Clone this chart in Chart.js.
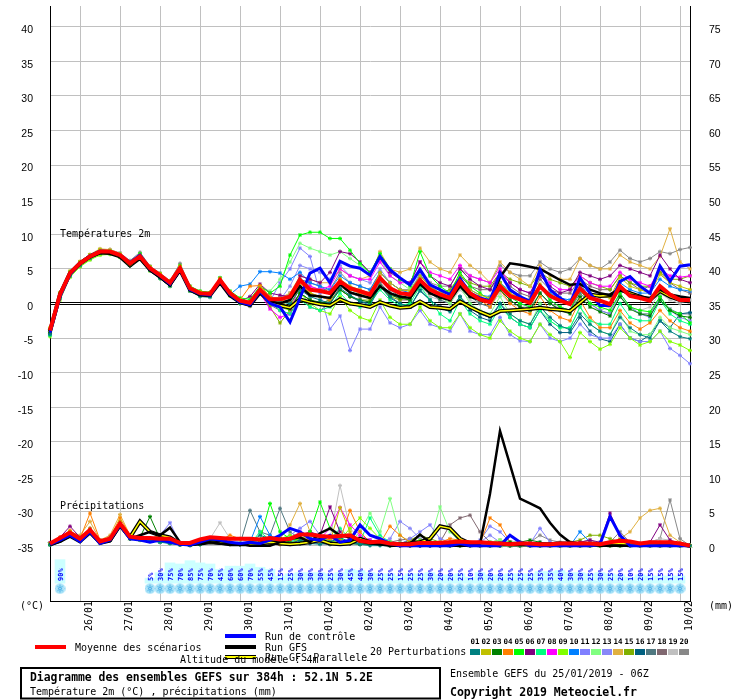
<!DOCTYPE html>
<html><head><meta charset="utf-8">
<script src="https://cdn.jsdelivr.net/npm/chart.js@4"></script>
<style>html,body{margin:0;padding:0;background:#fff;}#wrap{width:740px;height:700px;}</style>
</head><body><div id="wrap"><canvas id="c" width="740" height="700"></canvas></div>
<script>
// ---------- DATA ----------
const stepHours = Array.from({length:65}, (_, i) => i * 6); // forecast steps 0..384h
const dayLabels = ['26/01','27/01','28/01','29/01','30/01','31/01','01/02','02/02','03/02','04/02','05/02','06/02','07/02','08/02','09/02','10/02'];
const dayIndex  = [3,7,11,15,19,23,27,31,35,39,43,47,51,55,59,63];
const tempTicks = [40,35,30,25,20,15,10,5,0,-5,-10,-15,-20,-25,-30,-35];
const precTicks = [75,70,65,60,55,50,45,40,35,30,25,20,15,10,5,0];
const memberNames = ['01','02','03','04','05','06','07','08','09','10','11','12','13','14','15','16','17','18','19','20'];

const tMean = [-3.9,1.3,4.4,5.8,6.8,7.5,7.5,7.0,5.8,6.8, 5.1,4.1,3.0,5.1,2.2,1.5,1.4,3.4,1.5,0.4, 0.1,2.0,0.6,0.6,1.0,3.4,2.0,1.8,1.5,3.2, 2.2,1.8,1.3,3.7,2.2,1.5,1.3,3.4,2.0,1.3, 0.8,3.2,1.5,0.6,0.2,2.5,1.1,0.6,0.1,2.5, 1.1,0.4,-0.1,2.2,0.8,0.4,-0.1,2.5,1.1,0.8, 0.4,2.5,1.3,0.5,0.5];
const tCtl  = [-4.2,1.0,4.2,5.8,6.9,7.6,7.5,7.0,5.9,7.0, 5.0,4.0,2.8,5.0,2.0,1.4,1.2,3.3,1.3,0.2, -0.2,1.8,0.0,-0.5,-2.7,0.8,4.4,5.1,3.0,6.1, 5.4,5.1,4.1,6.8,4.9,3.7,2.7,4.9,2.7,2.0, 1.3,3.6,1.5,0.8,0.4,4.4,2.0,1.0,0.3,4.9, 2.0,0.8,-0.1,3.7,1.5,-0.3,-0.3,3.2,3.9,2.5, 1.5,5.4,3.2,5.4,5.6];
const tGfs  = [-4.0,1.2,4.3,5.7,6.7,7.3,7.3,6.8,5.6,6.5, 4.8,3.8,2.6,4.8,2.0,1.3,1.2,3.0,1.2,0.3, 0.0,1.5,0.3,0.0,0.5,2.5,1.2,1.0,0.8,2.8, 1.6,1.2,0.8,2.5,1.5,1.0,0.8,2.8,1.5,0.9, 0.5,2.5,1.0,0.5,0.2,3.8,5.8,5.6,5.3,5.0, 4.2,3.4,2.7,2.8,2.0,1.5,1.2,2.0,1.3,1.0, 0.8,2.0,1.3,1.0,0.8];
const tPar  = [-4.0,1.3,4.4,5.8,6.8,7.4,7.3,6.8,5.5,6.6, 4.9,3.9,2.8,4.9,2.0,1.3,1.2,3.1,1.2,0.2, -0.2,1.6,0.2,-0.3,-0.6,0.6,0.2,-0.1,-0.3,0.6, 0.0,-0.2,-0.5,0.2,-0.3,-0.6,-0.5,0.3,-0.5,-0.6, -0.8,0.3,-0.5,-1.2,-1.8,-1.1,-1.0,-0.9,-0.8,-0.6, -0.8,-0.9,-1.1,0.1,1.3,1.1,1.2,2.0,1.5,1.0, 0.5,1.8,1.0,0.5,0.3];

const t01 = [-4.5,0.8,4.0,5.5,6.6,7.3,7.4,6.8,5.5,6.5,4.8,3.6,2.5,4.6,1.8,1.0,0.9,3.0,1.2,0.0,-0.3,1.5,0.3,0.2, 0.0,2.0,1.0,0.5, 0.0,2.2,1.2,0.4, -0.3,2.5,1.0,0.0, -0.5,1.8,0.5,-0.6, -1.2,1.0,-0.5,-1.5, -2.0,0.0,-1.5,-2.5, -3.0,-0.5,-2.0,-3.2, -3.8,-1.5,-3.0,-4.0, -4.5,-2.0,-3.5,-4.5, -5.0,-2.5,-4.0,-4.8, -5.1];
const t02 = [-3.5,1.6,4.6,6.0,7.0,7.8,7.6,7.1,6.0,7.0,5.3,4.3,3.2,5.3,2.4,1.7,1.5,3.6,1.7,0.5,0.2,2.2,0.8,0.3, -0.5,2.5,1.5,1.0, 0.8,3.5,2.5,2.0, 1.5,4.5,3.0,2.0, 1.8,4.0,2.5,1.5, 1.0,3.5,2.0,1.2, 0.8,3.0,1.5,0.8, 0.5,2.8,1.2,0.5, 0.2,3.2,1.5,1.0, 0.8,3.8,2.5,2.0, 1.5,4.2,3.0,2.5, 2.0];
const t03 = [-4.2,1.0,4.2,5.6,6.6,7.3,7.4,6.9,5.7,6.9,5.0,4.0,2.8,5.0,2.0,1.3,1.2,3.3,1.3,0.2,0.0,1.8,0.4,0.0, -0.8,1.5,0.5,0.2, 0.0,2.0,1.0,0.5, 0.2,2.5,1.2,0.8, 0.5,3.0,1.5,0.8, 0.5,2.5,1.0,0.5, 0.2,2.0,0.5,-0.5, -1.0,1.5,0.0,-1.0, -1.5,1.0,-0.5,-1.2, -1.8,1.0,-0.8,-1.5, -1.8,0.5,-1.0,-1.8, -2.0];
const t04 = [-4.0,1.4,4.5,6.0,7.0,7.6,7.5,7.0,5.8,6.8,5.2,4.2,3.1,5.3,2.2,1.6,1.5,3.5,1.6,0.5,2.5,2.6,1.0,0.5, 0.2,3.0,1.5,1.0, 0.5,3.5,2.0,1.5, 1.0,4.0,2.5,1.5, 1.0,3.5,2.0,1.0, 0.5,3.0,1.5,0.5, -0.5,2.0,0.0,-1.0, -1.5,1.0,-1.0,-2.0, -2.5,0.5,-2.0,-3.5, -3.5,-1.0,-2.8,-3.7, -2.8,-1.0,-2.5,-3.5, -4.0];
const t05 = [-3.8,1.5,4.6,6.0,7.0,7.7,7.6,7.1,6.0,7.2,5.3,4.3,3.2,5.5,2.5,1.8,1.6,3.7,1.8,0.8,0.6,2.5,1.5,2.5, 7.0,9.9,10.3,10.3, 9.4,9.4,7.7,5.8, 4.4,7.2,5.0,3.5, 2.5,7.5,4.0,2.5, 1.5,4.5,2.5,1.5, 0.5,3.0,1.0,0.0, -0.5,2.5,0.5,-0.5, -1.0,2.0,0.0,-0.5, -1.0,1.5,-0.5,-1.0, -1.2,1.0,-1.0,-1.5, -2.8];
const t06 = [-4.3,1.1,4.3,5.7,6.7,7.4,7.5,6.9,5.7,6.8,5.1,4.0,3.0,5.0,2.2,1.5,1.4,3.3,1.4,0.3,1.0,2.8,1.5,1.2, 1.0,4.0,3.5,3.0, 4.5,7.5,7.2,6.0, 4.5,6.5,4.5,3.5, 3.0,6.0,4.0,3.0, 2.5,5.0,3.5,2.5, 2.0,4.5,3.0,2.0, 1.5,4.0,2.5,1.5, 2.0,4.5,4.0,3.5, 4.0,5.5,5.0,4.5, 4.0,7.0,5.0,3.5, 3.0];
const t07 = [-4.6,0.9,4.1,5.6,6.7,7.5,7.6,7.1,5.9,7.0,5.2,4.1,3.0,5.2,2.3,1.6,1.5,3.5,1.6,0.5,0.1,1.9,0.2,-1.0, -1.5,0.5,-0.5,-1.0, -0.5,1.5,0.0,-0.5, 0.0,2.0,0.5,-0.3, 0.0,2.5,0.5,-1.5, -2.5,0.5,-1.5,-2.5, -3.0,-0.5,-2.0,-3.0, -3.5,-1.0,-2.5,-3.5, -3.5,-0.5,-2.5,-3.0, -3.0,0.0,-2.0,-2.5, -2.5,0.5,-1.5,-2.5, -3.0];
const t08 = [-3.6,1.5,4.5,5.9,6.9,7.5,7.4,6.9,5.8,6.7,5.0,4.0,2.9,5.0,2.2,1.5,1.3,3.4,1.5,0.3,-0.2,1.5,-0.8,-2.0, -1.5,3.0,2.5,2.0, 2.5,5.0,4.0,3.5, 3.5,6.0,4.0,3.0, 3.0,6.0,4.5,4.0, 3.5,5.5,4.0,3.5, 3.0,5.0,3.0,2.0, 1.5,4.5,3.0,2.0, 2.0,4.0,3.0,2.5, 2.5,4.5,3.5,3.0, 2.5,5.0,4.0,3.8, 4.0];
const t09 = [-4.8,0.5,3.8,5.3,6.3,7.0,7.1,6.7,5.5,6.4,4.7,3.6,2.5,4.6,1.8,1.1,1.0,3.0,1.1,0.0,-0.3,1.5,0.0,-0.5, -1.0,1.5,0.0,-1.0, -1.5,1.0,-1.0,-2.0, -2.5,0.5,-2.0,-3.0, -3.0,-0.5,-2.5,-3.5, -3.5,-1.5,-3.5,-4.5, -5.0,-2.5,-4.0,-5.0, -5.5,-3.0,-4.5,-5.5, -7.8,-4.2,-5.5,-6.6, -5.9,-3.5,-5.0,-6.0, -5.5,-4.0,-5.5,-6.0, -6.8];
const t10 = [-4.4,1.0,4.1,5.5,6.5,7.2,7.2,6.8,5.6,6.6,4.9,3.9,2.8,4.9,2.0,1.4,1.3,3.2,1.3,2.5,2.8,4.6,4.6,4.4, 3.5,4.5,3.0,2.5, 2.0,4.0,3.0,2.5, 2.0,4.5,3.0,2.0, 1.5,4.0,2.5,1.5, 1.0,3.5,2.0,1.2, 1.0,3.0,1.8,1.0, 0.5,2.5,1.5,0.8, 0.5,2.5,1.5,1.0, 1.0,3.0,2.0,1.5, 1.5,3.5,2.5,2.0, 1.8];
const t11 = [-4.0,1.2,4.3,5.7,6.7,7.3,7.3,6.8,5.6,6.6,4.9,3.9,2.8,4.9,2.1,1.3,1.2,3.2,1.2,0.2,-0.1,1.7,0.3,3.0, 5.0,8.0,6.8,1.5, -3.7,-1.8,-6.8,-3.7, -3.7,-0.5,-2.8,-3.5, -3.0,-1.0,-3.0,-3.5, -4.0,-1.5,-4.0,-4.5, -4.5,-2.0,-4.5,-5.4, -5.5,-3.0,-5.0,-5.5, -5.0,-3.0,-4.5,-5.0, -5.0,-3.0,-5.0,-5.5, -5.5,-4.0,-6.5,-7.5, -8.7];
const t12 = [-4.1,1.2,4.3,5.7,6.8,7.5,7.5,7.0,5.8,6.8,5.1,4.1,3.0,5.1,2.3,1.6,1.5,3.4,1.5,0.5,0.2,2.3,1.8,3.5, 6.0,8.7,8.0,7.5, 7.0,7.5,6.5,5.5, 4.5,6.5,4.0,3.0, 2.0,5.0,2.5,1.0, 0.0,2.5,0.0,-1.0, -1.5,1.0,-1.5,-2.5, -3.0,0.0,-2.5,-3.5, -3.5,-0.5,-3.0,-4.0, -4.5,-1.5,-4.0,-4.5, -4.5,-2.0,-3.5,-4.0, -4.5];
const t13 = [-4.2,1.1,4.2,5.6,6.7,7.4,7.4,6.9,5.7,6.7,5.0,4.0,2.9,5.0,2.1,1.4,1.3,3.3,1.4,0.3,0.0,1.8,0.2,0.5, 2.5,5.5,5.0,4.5, 3.5,5.5,4.0,3.5, 3.0,5.0,3.0,2.0, 1.5,4.5,2.5,1.5, 0.5,3.5,1.5,0.5, 0.0,3.0,1.0,0.0, -0.5,2.5,0.5,-0.5, -1.0,2.0,0.0,-1.0, -1.5,1.5,-0.5,-1.5, -2.0,1.0,-1.0,-2.0, -2.5];
const t14 = [-3.7,1.6,4.7,6.1,7.1,7.9,7.8,7.2,6.0,7.1,5.3,4.3,3.2,5.4,2.4,1.7,1.6,3.6,1.6,0.5,0.3,2.2,0.8,0.8, 1.5,4.0,3.5,3.0, 3.0,5.0,4.0,3.5, 4.0,7.5,5.0,4.5, 5.0,8.0,6.0,5.0, 4.5,7.0,5.5,4.5, 3.0,6.0,4.5,3.5, 2.5,5.5,4.0,3.5, 3.5,6.5,5.5,5.0, 5.0,7.0,6.0,5.5, 5.0,6.8,10.8,6.0, 5.0];
const t15 = [-4.3,0.9,4.0,5.4,6.5,7.2,7.3,6.8,5.6,6.6,4.9,3.9,2.7,4.8,1.9,1.2,1.1,3.1,1.2,0.1,-0.2,1.6,-0.5,-2.8, -1.0,1.5,0.5,0.0, 0.5,2.0,1.0,0.5, 0.5,2.5,1.0,0.5, 1.0,3.5,2.0,1.5, 2.0,4.0,3.0,2.5, 2.5,4.5,3.5,3.0, 2.5,4.5,3.5,3.0, 2.5,4.0,3.0,2.5, 2.0,4.0,3.0,2.5, 2.5,4.5,3.5,3.5, 4.0];
const t16 = [-4.5,0.7,3.9,5.4,6.4,7.1,7.2,6.7,5.5,6.5,4.8,3.8,2.7,4.8,2.0,1.3,1.2,3.2,1.3,0.2,-0.1,1.7,0.1,-0.3, -0.5,1.5,0.5,0.0, 0.5,2.0,1.0,0.3, 0.0,2.5,0.8,0.0, -0.5,2.0,0.5,-0.5, -1.0,1.0,-1.0,-2.0, -2.5,0.0,-2.0,-3.0, -3.5,-1.0,-3.0,-4.2, -4.2,-2.0,-4.0,-5.1, -5.5,-3.0,-5.0,-5.5, -4.5,-2.5,-3.5,-1.5, -1.3];
const t17 = [-4.0,1.3,4.4,5.8,6.9,7.6,7.6,7.1,5.9,7.1,5.2,4.2,3.1,5.2,2.3,1.6,1.5,3.5,1.6,0.5,0.2,2.1,0.5,0.3, 1.5,3.5,3.0,2.5, 1.5,3.5,2.0,1.5, 1.5,3.5,2.0,1.0, 0.5,3.0,1.5,0.5, 0.0,2.5,1.0,0.0, -0.5,2.0,0.5,-0.5, -1.0,1.5,0.0,-0.8, -1.0,1.5,0.0,-1.0, -1.5,1.0,-0.5,-1.5, -1.5,0.8,-0.8,-1.5, -1.5];
const t18 = [-4.4,0.9,4.1,5.5,6.5,7.2,7.2,6.7,5.5,6.5,4.8,3.8,2.7,4.8,1.9,1.2,1.1,3.1,1.2,0.0,-0.4,1.4,-0.2,-1.0, -1.5,1.0,-0.5,-1.0, 0.0,2.5,1.5,1.0, 1.0,3.0,1.5,0.5, 0.5,3.5,2.0,1.5, 1.5,4.0,2.5,2.0, 2.0,4.0,2.5,1.5, 1.0,3.5,2.0,1.5, 1.5,3.5,2.5,2.0, 2.0,4.0,3.0,2.0, 2.5,4.5,3.0,2.0, 1.5];
const t19 = [-3.9,1.4,4.5,5.9,6.9,7.6,7.6,7.1,5.9,6.9,5.2,4.2,3.1,5.2,2.3,1.6,1.4,3.4,1.5,0.4,0.1,1.9,0.5,0.4, 0.5,2.5,1.5,1.0, 0.5,3.0,1.5,1.0, 1.0,3.0,1.5,0.8, 0.5,2.5,1.0,0.5, 0.0,2.0,0.5,0.0, -0.5,1.5,0.0,-0.5, -0.5,1.5,0.0,-0.5, -1.0,1.0,-0.5,-1.0, -0.5,1.0,-0.5,-1.0, -0.5,1.5,0.5,0.0, 0.5];
const t20 = [-4.1,1.2,4.4,5.9,7.0,7.8,7.8,7.3,6.2,7.4,5.4,4.4,3.3,5.8,2.5,1.7,1.6,3.7,1.7,0.6,0.3,2.5,0.9,0.8, 1.0,3.5,2.5,2.0, 2.0,4.5,3.0,2.5, 2.0,4.5,3.0,2.0, 2.0,4.0,3.0,2.5, 2.5,5.0,4.0,3.5, 3.0,5.5,4.5,4.0, 4.0,6.0,5.0,4.5, 5.0,6.5,5.5,5.0, 6.0,7.7,6.5,6.0, 6.5,7.5,7.2,7.8, 8.1];

const pMean = [0.3,1.1,1.9,1.0,2.3,0.6,1.0,3.2,1.3,1.1, 1.1,1.0,1.0,0.4,0.4,0.9,1.2,1.1,1.0,1.0, 1.0,0.9,1.1,0.9,1.0,1.6,1.6,1.4,1.3,1.4, 1.5,0.7,0.5,0.6,0.3,0.2,0.2,0.4,0.4,0.4, 0.5,0.6,0.5,0.5,0.4,0.3,0.2,0.3,0.3,0.2, 0.2,0.3,0.3,0.3,0.3,0.2,0.5,0.7,0.6,0.3, 0.5,0.5,0.5,0.3,0.0];
const pCtl  = [0.2,0.8,1.5,0.6,2.0,0.3,0.8,3.0,1.0,0.8, 0.5,0.8,0.5,0.2,0.1,0.5,1.0,0.8,0.5,0.3, 0.5,0.3,0.8,1.5,2.5,2.0,1.0,0.8,1.5,0.5, 0.8,3.0,1.5,1.0,0.3,0,0,0,0,0, 0,0.3,0,0,0,0,1.5,0.5,0,0, 0,0,0,0,0,0.2,4.2,1.5,0,0, 0,0,0,0,0];
const pGfs  = [0.1,0.6,1.3,0.5,1.8,0.3,0.6,2.8,1.0,1.5, 2.0,1.5,2.6,0.5,0.2,0.3,0.5,0.3,0.2,0.3, 0,0,0,0.5,1.0,1.2,0.5,1.8,2.5,1.5, 1.2,0.6,0.3,0.2,0,0,0.3,1.6,0.5,0.3, 0,0,0,0.2,7.5,16.6,11.7,6.8,6.1,5.4, 3.3,1.6,0.5,0.3,0.1,0,0,0,0,0, 0,0,0,0,0];
const pPar  = [0.2,0.7,1.5,0.8,2.0,0.5,0.8,3.0,1.2,3.5, 2.0,1.5,1.2,0.3,0.2,0.3,0.5,0.4,0.2,0.2, 0.2,0.3,0.5,0.3,0.2,0.3,0.5,0.8,0.3,0.2, 0.3,1.0,0.5,0.3,0.2,0.2,0.3,0.5,1.0,2.8, 2.5,1.0,0.3,0.2,0.2,0.3,0.2,0.2,0.2,0.2, 0.2,0.3,0.3,0.2,0.2,0.2,0.3,0.3,0.2,0.2, 0.2,0.3,0.3,0.2,0.0];

const p01 = [0.2,0.8,1.6,0.8,2.2,0.5,0.9,3.1,1.2,0.9, 0.8,0.5,0.3,0.1,0.0,0.2,0.8,0.5,0.3,0.2, 0.5,1.5,1.0,0.5,0.3,0.8,0.3,0.2,0.5,1.2, 0.5,0.2,0,0,0,0,0,0,0,0, 0,0,0,0,0,0,0,0,0,0, 0,0,0,0,0,0,0,0,0,0, 0,0,0,0,0];
const p02 = [0.3,1.0,2.0,1.0,2.5,0.6,1.0,3.5,1.5,1.0, 1.0,1.5,0.8,0.3,0.2,0.5,1.0,0.8,0.5,0.3, 0.2,0.5,1.0,0.5,0.3,1.0,1.5,0.8,0.5,5.5, 2.0,0.5,0.3,0.2,0,0,0,0.3,0.5,0.3, 0,0,0,0,0,0,0,0,0,0, 0,0,0,0,0,0,0,0,0,0, 0,0,0,0,0];
const p03 = [0.2,0.9,1.8,0.9,2.0,0.5,0.9,3.0,1.0,1.2, 4.2,1.0,0.5,0.2,0.1,0.3,0.8,0.5,0.3,0.2, 0.3,0.5,0.8,1.0,0.5,0.3,0.5,0.8,0.5,0.3, 0.3,0.2,0.2,0.3,0,0,0,0,0,0, 0,0,0,0,0,0,0.5,0.5,0.8,0.5, 0.2,0,0,0,0,0,0.3,0.8,0.3,0, 0,0,0,0,0];
const p04 = [0.3,1.2,2.2,1.0,4.7,0.8,1.2,4.0,1.5,1.0, 1.0,0.8,0.5,0.2,0.1,0.3,1.0,0.8,1.5,1.0, 0.5,0.5,0.3,0.2,0.8,1.2,0.8,0.5,1.0,0.8, 5.1,2.0,0.5,0.3,2.8,1.5,0.5,0.2,0.2,0.5, 1.0,0.8,0.5,0.3,4.0,3.0,0.5,0.3,0.2,0.2, 0,0,0,0,0,0,0,0,0,0, 0,0,0,0,0];
const p05 = [0.2,0.9,1.8,0.8,2.0,0.5,1.0,3.2,1.3,1.0, 1.0,0.8,0.5,0.2,0.1,0.3,1.0,0.8,0.5,0.3, 0.5,0.8,6.1,2.0,1.0,0.8,2.0,6.3,2.5,1.0, 0.5,0.8,0.5,0.3,0.2,0.2,0.3,0.5,0.3,0.2, 0.3,0.5,0.3,0.2,0,0,0,0,0,0, 0,0,0,0,0,0,0,0,0,0, 0,0,0,0,0];
const p06 = [0.4,1.2,2.8,1.2,2.5,0.8,1.2,3.3,1.4,1.0, 1.0,0.8,0.5,0.2,0.1,0.3,0.8,0.5,0.3,0.2, 0.2,0.3,0.5,0.8,1.0,1.5,2.0,1.5,5.6,2.0, 0.8,0.5,0.3,0.2,0,0,0,0,0,0, 0,0,0,0,0,0,0,0,0,0, 0,0,0,0.5,0.8,0.5,4.7,1.5,0.5,0.3, 0.5,3.0,0.8,0.3,0];
const p07 = [0.2,0.8,1.6,0.8,2.0,0.5,0.9,3.0,1.2,0.9, 0.8,0.6,0.4,0.2,0.1,0.2,0.8,0.5,0.3,0.2, 0.2,2.0,0.8,0.5,0.5,1.0,1.5,1.0,0.8,2.5, 1.0,0.5,4.0,1.5,0.5,0.3,0.2,0.3,0.5,0.3, 0,0,0,0,0,0,0,0,0,0, 0,0,0,0,0,0,0,0,0,0, 0,0,0,0,0];
const p08 = [0.3,1.0,1.9,1.0,2.2,0.6,1.0,3.1,1.2,1.0, 1.0,0.8,0.6,0.2,0.1,0.3,0.8,0.5,0.3,0.2, 0.2,0.3,0.5,0.5,1.0,2.0,1.5,1.0,2.5,5.5, 3.0,1.5,0.8,0.5,0.3,0,0,0,0,0, 0,0,0,0,0,0,0,0,0,0, 0,0,0,0,0,0,0,0,0,0, 0,0,0,0,0];
const p09 = [0.2,0.7,1.5,0.7,1.8,0.4,0.8,2.8,1.0,0.8, 0.8,0.6,0.4,0.2,0.1,0.2,0.6,0.4,0.2,0.2, 0.2,0.3,0.5,1.0,1.5,1.0,0.8,0.5,0.5,0.8, 2.5,4.0,2.5,1.0,0.5,0.3,0.5,0.8,0.5,0.3, 0,0,0,0,0,0,0,0,0,0, 0,0,0,0,0,0,0,0,0,0, 0,0,0,0,0];
const p10 = [0.2,0.8,1.7,0.9,2.1,0.5,0.9,3.0,1.2,1.0, 0.9,0.7,0.5,0.2,0.1,0.3,0.8,0.5,0.3,0.2, 0.5,4.2,1.5,0.8,0.5,0.8,1.0,0.8,0.5,0.3, 0.5,0.3,0.2,0.2,0,0,0,0,0,0, 0,0,0,0,0,0,0,0,0,0, 0,0,0,2.0,0.5,0.3,0,0,0,0, 0,0,0,0,0];
const p11 = [0.3,0.9,1.8,0.9,2.2,0.6,1.0,3.2,1.2,1.0, 1.0,1.5,3.3,0.3,0.1,0.3,0.8,0.5,0.3,0.2, 0.2,0.3,0.5,0.8,1.5,2.5,3.5,1.5,0.8,0.5, 0.3,0.5,0.8,0.5,0.3,0.2,1.0,2.0,3.0,1.0, 0.5,0.3,0.2,0.8,2.8,2.0,0.5,0.3,0.3,2.5, 0.5,0.3,0,0,0,0,0,0,0,0, 0,0,0,0,0];
const p12 = [0.2,0.8,1.7,0.8,2.0,0.5,0.9,3.0,1.1,0.9, 0.8,0.6,0.4,0.2,0.1,0.3,0.8,0.5,0.3,0.2, 0.3,0.5,0.8,0.5,0.3,0.5,0.8,1.0,0.5,0.3, 0.5,2.0,4.7,2.0,6.8,1.5,0.5,0.3,0.5,5.6, 2.0,0.5,0.3,0.2,0.5,0.8,0.5,0.3,0.2,0.2, 0,0,0,0,0,0,0,0,0,0, 0,0,0,0,0];
const p13 = [0.3,0.9,1.8,0.9,2.1,0.6,1.0,3.1,1.2,1.0, 0.9,0.7,0.5,0.2,0.1,0.3,0.8,0.5,0.3,0.2, 0.2,0.5,0.8,1.0,0.8,0.5,0.3,0.5,0.8,0.5, 0.5,0.3,0.2,0.5,1.0,3.5,2.5,1.0,0.5,0.3, 0.5,0.3,0.2,0.5,1.5,0.5,0.3,0.2,0.3,0.5, 0.3,0.2,0,0,0,0,0,0,0,0, 0,0,0,0,0];
const p14 = [0.3,1.2,2.0,1.5,3.5,0.8,1.5,4.5,1.5,1.0, 1.0,0.8,0.5,0.2,0.1,0.3,0.8,0.5,0.3,0.2, 0.3,0.5,0.8,1.0,3.0,6.1,2.0,1.0,0.8,0.5, 0.3,0.5,0.3,0.2,0.5,0.3,0.2,0.3,0.2,0.2, 0,0,0,0,0,0,0,0,0,0, 0,0,0,0,0,0,0.3,1.0,2.0,4.0, 5.1,5.4,1.5,0.5,0];
const p15 = [0.2,0.8,1.6,0.8,2.0,0.5,0.9,3.0,1.2,0.9, 0.8,0.6,0.4,0.2,0.1,0.3,0.8,0.5,0.3,0.2, 0.2,0.3,0.5,0.3,0.5,0.8,1.0,0.5,0.3,0.5, 0.8,0.5,0.3,0.2,0.2,0.3,0.8,1.5,1.0,0.5, 0.3,0.2,0.2,0.3,0.5,0.8,0.5,0.3,0.2,0.2, 0.2,0.3,0.5,0.8,1.5,1.5,1.0,0.5,0.3,0.2, 0.2,0.3,0.2,0,0];
const p16 = [0.1,0.7,1.5,0.7,1.8,0.4,0.8,2.8,1.0,0.8, 0.7,0.5,0.4,0.2,0.1,0.2,0.6,0.4,0.2,0.2, 0.2,0.3,0.3,0.2,0.5,0.8,0.5,0.3,0.2,0.3, 0.5,0.3,0.2,0.2,0,0,0,0,0,0, 0,0,0,0,0,0,0,0,0,0, 0,0,0,0,0,0,0,0,0,0, 0,0,0,0,0];
const p17 = [0.2,0.8,1.6,0.8,2.0,0.5,0.9,3.0,1.1,0.9, 0.8,0.6,0.4,0.2,0.1,0.2,0.7,0.5,0.3,0.2, 5.1,2.0,1.5,5.4,2.0,1.0,0.8,0.5,0.3,0.5, 0.3,0.2,0.2,0.2,0,0,0,0,0,0, 0,0,0,0,0,0,0,0,0,0, 0,0,0,0,0,0,0,0,0,0, 0,0,0,0,0];
const p18 = [0.2,0.9,1.7,0.8,2.0,0.5,0.9,3.0,1.1,0.9, 0.8,0.6,0.4,0.2,0.1,0.2,0.7,0.5,0.3,0.2, 0.2,0.3,0.5,0.3,0.2,0.3,0.5,0.3,0.2,0.3, 0.5,0.3,0.2,0.2,0.5,0.8,1.0,0.5,0.3,0.5, 3.0,4.0,4.4,2.0,0.5,0.3,0.2,0.2,0,0, 0,0,0,0,0,0,0,0,0,0, 0,0,0,0,0];
const p19 = [0.3,1.0,2.0,1.0,2.3,0.6,1.0,3.2,1.3,1.0, 1.0,0.8,0.6,0.3,0.1,0.3,1.0,3.3,1.0,0.5, 0.3,0.5,0.8,0.5,0.5,0.8,1.0,0.8,1.0,8.7, 2.5,1.0,0.5,0.3,0.2,0.2,0.3,0.5,0.3,0.2, 0,0,0,0,0,0,0,0,0,0, 0,0,0,0,0,0,0,0,0,0, 0.5,1.0,0.8,0.3,0];
const p20 = [0.3,1.0,1.9,1.0,2.2,0.6,1.0,3.1,1.2,1.0, 0.9,0.7,0.5,0.2,0.1,0.3,0.8,0.5,0.3,0.2, 0.2,0.3,0.5,0.5,0.8,1.0,0.8,0.5,0.3,0.5, 0.3,0.5,0.8,0.5,0.3,0.2,0.3,0.5,0.3,0.2, 0,0,0,0,0,0,0,0,0.5,1.5, 0.8,0.5,0.3,0.5,0.8,0.3,0.5,2.0,0.5,0.3, 0.5,1.0,6.6,1.0,0];

// probability of precipitation (%) per step, null = not shown
const rainPct = [null,90,null,null,null,null,null,null,null,null,
  5,30,75,70,85,75,70,45,60,60, 70,55,45,15,25,30,30,30,25,30,
  45,40,30,25,25,15,25,25,30,20, 20,25,10,30,20,20,25,25,25,35,
  35,40,30,30,25,30,25,20,10,20, 15,15,15,15,null];

const memberColors = ['#008080','#c0c000','#008000','#ff8000','#00ff00','#800080','#00ff80','#ff00ff','#80ff00','#0080ff','#8080ff','#80ff80','#8888f8','#e0b040','#80b000','#006080','#507880','#806870','#c0c0c0','#888888'];
const tempMembers = [t01,t02,t03,t04,t05,t06,t07,t08,t09,t10,t11,t12,t13,t14,t15,t16,t17,t18,t19,t20];
const precMembers = [p01,p02,p03,p04,p05,p06,p07,p08,p09,p10,p11,p12,p13,p14,p15,p16,p17,p18,p19,p20];

// ---------- STYLE / BUILD ----------
const MONO = '"DejaVu Sans Mono", monospace';
const CH = 601; // chart area height in px (for the pixel-space helper axis)
function mainLine(data, axis, color, width, order) {
  return {type:'line', data, yAxisID:axis, borderColor:color, backgroundColor:color, borderWidth:width,
          pointRadius:0, tension:0, fill:false, order};
}
function memberLine(data, axis, color, order) {
  return {type:'line', data, yAxisID:axis, borderColor:color, backgroundColor:color, borderWidth:1,
          pointRadius:2, pointStyle:'star', pointBorderColor:color, pointBorderWidth:1, tension:0, fill:false, order};
}
function makeIcon() {
  const c = document.createElement('canvas'); c.width = 11; c.height = 11;
  const g = c.getContext('2d');
  g.fillStyle = '#a6e2f8'; g.beginPath(); g.arc(5.5,5.5,5.3,0,Math.PI*2); g.fill();
  g.strokeStyle = '#4fb3e8'; g.lineWidth = 1;
  g.beginPath();
  g.moveTo(5.5,1.5); g.lineTo(5.5,9.5); g.moveTo(1.5,5.5); g.lineTo(9.5,5.5);
  g.moveTo(2.8,2.8); g.lineTo(8.2,8.2); g.moveTo(8.2,2.8); g.lineTo(2.8,8.2);
  g.stroke();
  g.fillStyle = '#ffffff'; g.fillRect(5,5,1,1); g.fillRect(2,5,1,1); g.fillRect(8,5,1,1);
  return c;
}
const icon = makeIcon();

const datasets = [];
datasets.push(mainLine(tMean,'y','#ff0000',4,1));
datasets.push(mainLine(pMean,'y2','#ff0000',4,1));
datasets.push(mainLine(tCtl,'y','#0000ff',3,3));
datasets.push(mainLine(pCtl,'y2','#0000ff',3,3));
datasets.push(mainLine(tGfs,'y','#000000',2.5,5));
datasets.push(mainLine(pGfs,'y2','#000000',2.5,5));
datasets.push(mainLine(tPar,'y','#ffff00',1.5,7));
datasets.push(mainLine(pPar,'y2','#ffff00',1.5,7));
datasets.push(mainLine(tPar,'y','#000000',4,8));
datasets.push(mainLine(pPar,'y2','#000000',4,8));
tempMembers.forEach((d,k) => datasets.push(memberLine(d,'y',memberColors[k],20)));
precMembers.forEach((d,k) => datasets.push(memberLine(d,'y2',memberColors[k],20)));
// probability bars (pixel-space helper axis 'yp')
datasets.push({type:'bar', yAxisID:'yp', order:50, backgroundColor:'#ccffff', borderWidth:0,
  barPercentage:1, categoryPercentage:1,
  data: rainPct.map(p => p == null ? null : [583, 583 - (4 + 0.22 * p)])});
datasets.push({type:'line', yAxisID:'yp', order:40, showLine:false, pointStyle:icon, pointRadius:5,
  data: rainPct.map(p => p == null ? null : 588.5)});

const decor = {
  id:'decor',
  beforeDatasetsDraw(chart) {
    const {ctx, chartArea:a, scales} = chart;
    const yz = Math.floor(scales.y.getPixelForValue(0));
    ctx.save(); ctx.fillStyle = '#000';
    ctx.fillRect(a.left, yz-1, a.right-a.left, 1);
    ctx.fillRect(a.left, yz+1, a.right-a.left, 1);
    ctx.restore();
  },
  afterDraw(chart) {
    const {ctx, scales} = chart;
    const x = scales.x, y = scales.y, y2 = scales.y2;
    ctx.save();
    ctx.textBaseline = 'alphabetic';
    ctx.fillStyle = '#000';
    // left / right tick labels
    ctx.font = '10.5px "Liberation Sans", Arial, sans-serif';
    ctx.textAlign = 'right';
    tempTicks.forEach(v => ctx.fillText(String(v), 33, Math.round(y.getPixelForValue(v) + 6.3)));
    ctx.textAlign = 'left';
    precTicks.forEach(v => ctx.fillText(String(v), 709, Math.round(y2.getPixelForValue(v) + 6.3)));
    // units
    ctx.font = '10px ' + MONO;
    ctx.fillText('(°C)', 20, 609);
    ctx.fillText('(mm)', 709, 609);
    // section titles
    ctx.fillText('Températures 2m', 60, 237);
    ctx.fillText('Précipitations', 60, 509);
    // date labels (rotated)
    dayLabels.forEach((lab, k) => {
      const px = x.getPixelForValue(dayIndex[k]);
      ctx.save(); ctx.translate(px + 11.5, 631); ctx.rotate(-Math.PI/2);
      ctx.textAlign = 'left'; ctx.fillText(lab, 0, 0); ctx.restore();
    });
    // probability labels
    ctx.fillStyle = '#0000ff';
    ctx.font = 'bold 7px ' + MONO;
    rainPct.forEach((p, i) => {
      if (p == null) return;
      const px = x.getPixelForValue(i);
      ctx.save(); ctx.translate(px + 2.5, 581); ctx.rotate(-Math.PI/2);
      ctx.textAlign = 'left'; ctx.fillText(p + '%', 0, 0); ctx.restore();
    });
    // legend
    ctx.fillStyle = '#ff0000'; ctx.fillRect(35, 645, 31, 4);
    ctx.fillStyle = '#0000ff'; ctx.fillRect(225, 634, 31, 4);
    ctx.fillStyle = '#000000'; ctx.fillRect(225, 645, 31, 4);
    ctx.fillStyle = '#000000'; ctx.fillRect(225, 655, 31, 4);
    ctx.fillStyle = '#ffff00'; ctx.fillRect(225, 656, 31, 2);
    ctx.fillStyle = '#000';
    ctx.font = '10px ' + MONO; ctx.textAlign = 'left';
    ctx.fillText('Moyenne des scénarios', 75, 651);
    ctx.fillText('Run de contrôle', 265, 640);
    ctx.fillText('Run GFS', 265, 651);
    ctx.fillText('Altitude du modèle : 4m', 180, 663);
    ctx.fillText('Run GFS Parallele', 265, 661);
    ctx.fillText('20 Perturbations', 370, 655);
    // member swatches
    memberColors.forEach((c, k) => {
      const sx = 470 + 11*k;
      ctx.fillStyle = c; ctx.fillRect(sx, 649, 10, 6);
      ctx.fillStyle = '#000'; ctx.font = 'bold 7.5px ' + MONO; ctx.textAlign = 'center';
      ctx.fillText(memberNames[k], sx + 5, 644);
    });
    // footer box
    ctx.strokeStyle = '#000'; ctx.lineWidth = 2;
    ctx.strokeRect(21, 668, 419, 30.5);
    ctx.textAlign = 'left'; ctx.fillStyle = '#000';
    ctx.font = 'bold 11.4px ' + MONO;
    ctx.fillText('Diagramme des ensembles GEFS sur 384h : 52.1N 5.2E', 30, 681);
    ctx.font = '10px ' + MONO;
    ctx.fillText('Température 2m (°C) , précipitations (mm)', 30, 695);
    ctx.fillText('Ensemble GEFS du 25/01/2019 - 06Z', 450, 677);
    ctx.font = 'bold 11.5px ' + MONO;
    ctx.fillText('Copyright 2019 Meteociel.fr', 450, 696);
    ctx.restore();
  }
};

new Chart(document.getElementById('c'), {
  type:'line',
  data:{labels: stepHours, datasets},
  options:{
    responsive:false, animation:false, devicePixelRatio:1, events:[],
    layout:{padding:{left:50, right:50, top:0, bottom:99}},
    plugins:{legend:{display:false}, tooltip:{enabled:false}},
    scales:{
      x:{type:'category', offset:false, ticks:{display:false, autoSkip:false},
         grid:{offset:false, drawTicks:false, lineWidth:1,
               color:(c) => (c.index >= 3 && c.index < 64 && (c.index - 3) % 4 === 0) ? '#c0c0c0' : 'rgba(0,0,0,0)'},
         border:{display:true, color:'#000', width:1},
         afterFit:(s) => { s.height = 0; }},
      y:{type:'linear', position:'left', min:-43, max:43,
         ticks:{display:false, stepSize:5, includeBounds:false, maxTicksLimit:100},
         grid:{drawTicks:false, lineWidth:1,
               color:(c) => (c.tick && c.tick.value >= -35 && c.tick.value !== 0) ? '#c0c0c0' : 'rgba(0,0,0,0)'},
         border:{display:true, color:'#000', width:1},
         afterFit:(s) => { s.width = 0; }},
      y2:{type:'linear', position:'right', min:-8, max:78,
         ticks:{display:false}, grid:{display:false, drawTicks:false},
         border:{display:true, color:'#000', width:1},
         afterFit:(s) => { s.width = 0; }},
      yp:{type:'linear', display:false, reverse:true, min:0, max:CH}
    }
  },
  plugins:[decor]
});
</script>
</body></html>
